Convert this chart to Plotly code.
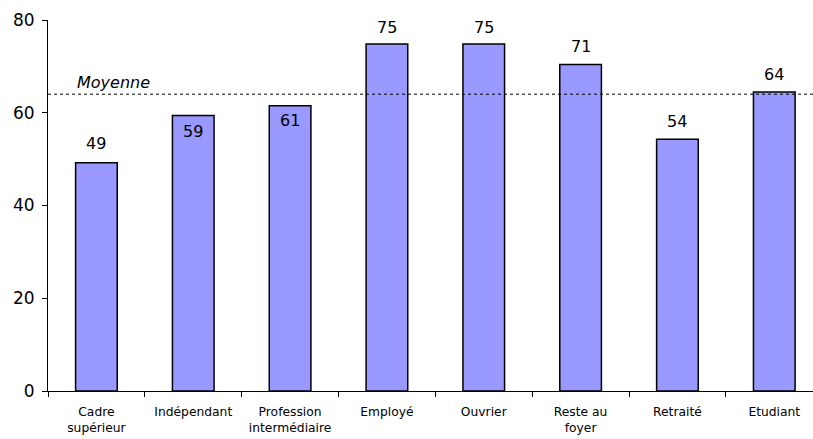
import plotly.graph_objects as go

categories = ["Cadre<br>supérieur", "Indépendant", "Profession<br>intermédiaire", "Employé",
              "Ouvrier", "Reste au<br>foyer", "Retraité", "Etudiant"]
values = [49.2, 59.4, 61.5, 74.8, 74.8, 70.4, 54.3, 64.5]
value_labels = ["49", "59", "61", "75", "75", "71", "54", "64"]
mean_value = 64
mean_label = "Moyenne"
y_ticks = [0, 20, 40, 60, 80]

# label vertical offsets (px): positive above bar top, negative inside
label_shift = [19, -16, -15, 17, 17, 18, 18, 17]

FONT = "DejaVu Sans"

fig = go.Figure()
fig.add_trace(go.Bar(
    x=categories, y=values,
    marker=dict(color="#9999FF", line=dict(color="black", width=1.5)),
    width=0.43, hoverinfo="skip",
))

for c, v, t, s in zip(categories, values, value_labels, label_shift):
    fig.add_annotation(x=c, y=v, text=t, showarrow=False, yshift=s,
                       font=dict(family=FONT, size=16, color="black"))

fig.add_shape(type="line", xref="paper", yref="y", x0=0, x1=1,
              y0=mean_value, y1=mean_value,
              line=dict(color="black", width=1, dash="dot"))
fig.add_annotation(xref="paper", yref="y", x=0.035, y=mean_value, text=mean_label,
                   showarrow=False, xanchor="left", yanchor="bottom", yshift=0,
                   font=dict(family=FONT, size=16, color="black", style="italic"))

fig.update_layout(
    width=813, height=439,
    margin=dict(l=48, r=0, t=20, b=48, autoexpand=False),
    plot_bgcolor="white", paper_bgcolor="white",
    showlegend=False,
    font=dict(family=FONT, color="black"),
)
fig.update_xaxes(
    range=[-0.5, 7.4], automargin=False,
    showline=True, linecolor="black", linewidth=1,
    ticks="outside", tickson="boundaries", ticklen=5, tickcolor="black",
    tickfont=dict(family=FONT, size=12.3), showgrid=False, ticklabelstandoff=9,
)
fig.update_yaxes(
    range=[0, 80], tickvals=y_ticks, automargin=False,
    showline=True, linecolor="black", linewidth=1,
    ticks="outside", ticklen=5, tickcolor="black", showgrid=False, zeroline=False,
    tickfont=dict(family=FONT, size=17), ticklabelstandoff=4,
)

fig.write_html("out.html", config={"displayModeBar": False},
               post_script="document.body.style.margin='0';")
